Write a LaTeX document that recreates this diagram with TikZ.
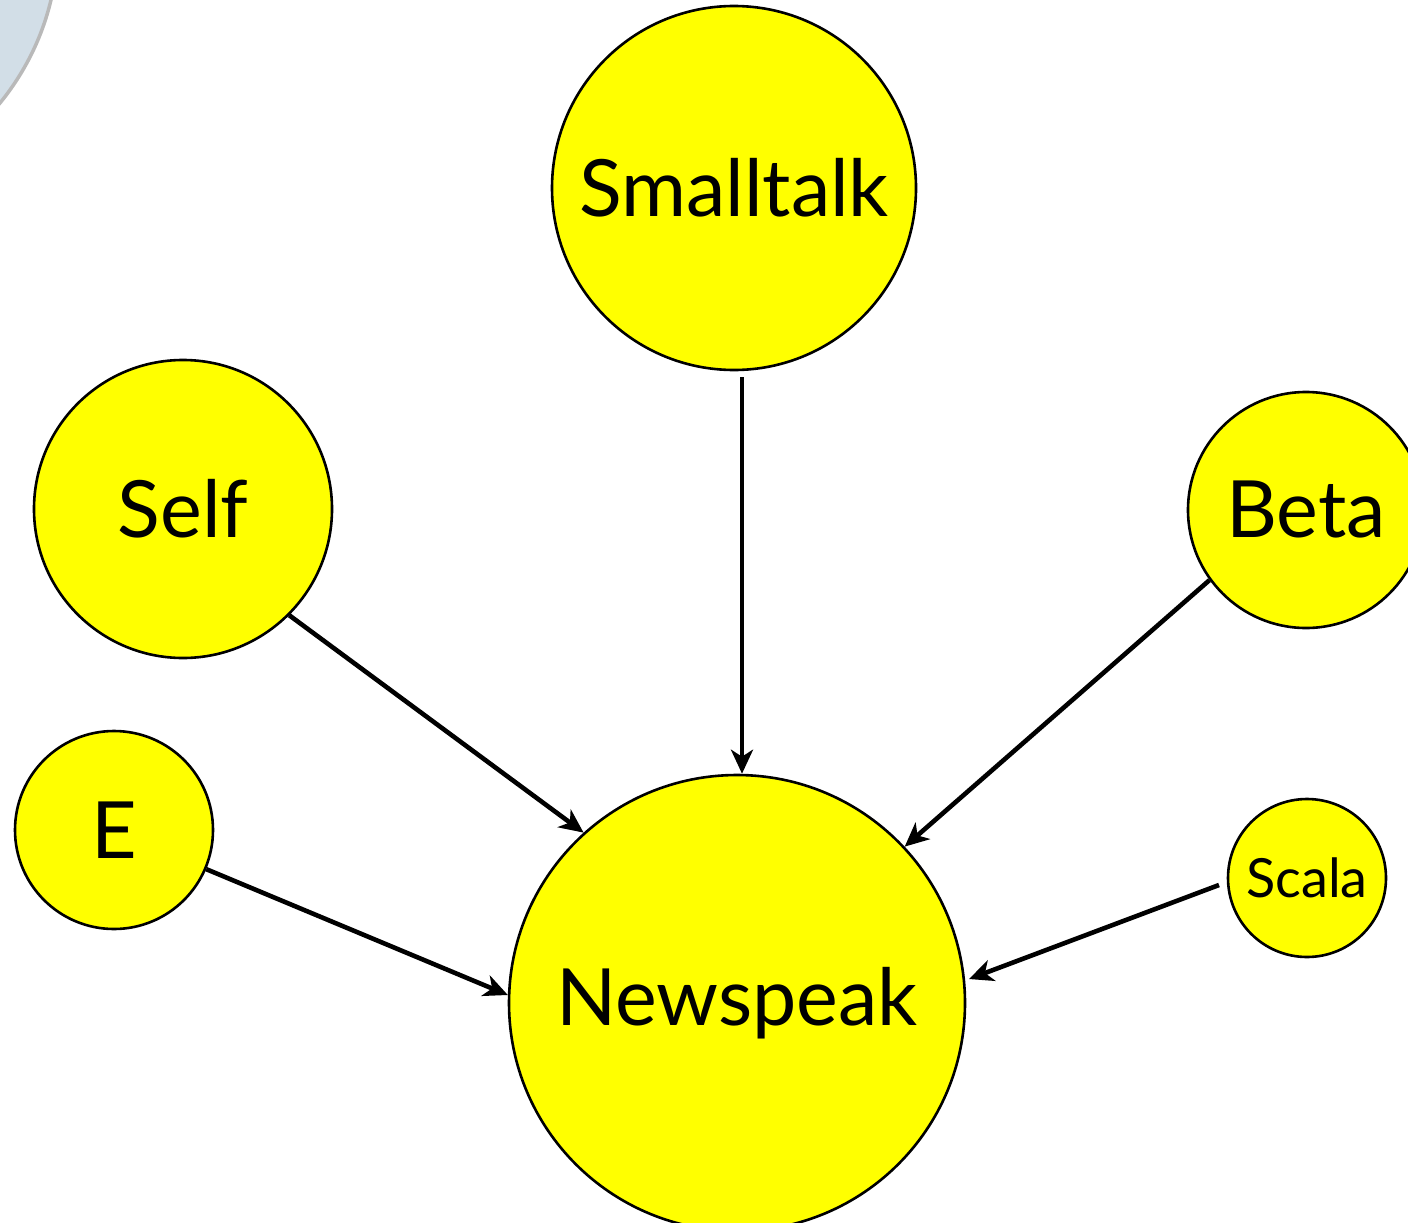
\documentclass[tikz,border=0pt]{standalone}
\usepackage{fontspec}
\setmainfont{Lato}
\usetikzlibrary{arrows.meta}
\definecolor{lang}{HTML}{FFFF00}
\definecolor{deco}{HTML}{D2DEE7}
\begin{document}
\begin{tikzpicture}[x=1pt,y=-1pt,
  langnode/.style={circle,draw=black,line width=2.6pt,fill=lang,inner sep=0pt,
    minimum size=#1,font=\fontsize{79}{88}\selectfont},
  link/.style={line width=4.6pt,-{Stealth[length=24pt,width=22pt,inset=7pt]}}]
  \useasboundingbox (0,0) rectangle (1408,1223);
  \clip (0,0) rectangle (1408,1223);
  % pale decorative disc in the corner
  \fill[deco] (-200,-60) circle[radius=258];
  \draw[gray!55,line width=3.5pt] (-200,-60) circle[radius=258];
  % languages
  \node[langnode=364pt] (smalltalk) at (734,188) {Smalltalk};
  \node[langnode=298pt] (self) at (183,509) {Self};
  \node[langnode=236pt] (beta) at (1306,510) {Beta};
  \node[langnode=198pt] (e) at (114,830) {E};
  \node[langnode=158pt,font=\fontsize{54}{60}\selectfont] (scala) at (1307,878) {Scala};
  \node[langnode=456pt] (newspeak) at (737,1003) {Newspeak};
  % influences
  \draw[link] ([xshift=8pt,yshift=-6pt]smalltalk.south) -- ([xshift=5pt]newspeak.north);
  \draw[link] (self.-45) -- (newspeak.132);
  \draw[link] (e.-23.5) -- (newspeak.178);
  \draw[link] (beta.216) -- (newspeak.43);
  \draw[link] ([xshift=-8pt]scala.185) -- ([xshift=4pt]newspeak.6);
\end{tikzpicture}
\end{document}
